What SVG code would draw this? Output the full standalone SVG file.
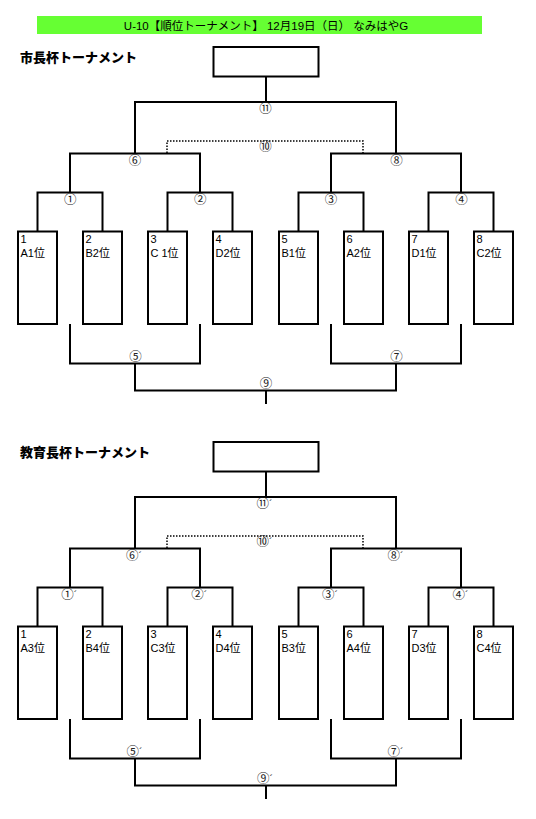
<svg xmlns="http://www.w3.org/2000/svg" width="536" height="819" viewBox="0 0 536 819">
<style>
.ln{fill:none;stroke:#000;stroke-width:2}
.dot{fill:none;stroke:#000;stroke-width:1.5;stroke-dasharray:1.5 1.5}
.box{fill:#fff;stroke:#000;stroke-width:2}
.lbl{font-family:"Noto Sans CJK JP",sans-serif;font-size:12.5px;fill:#222;text-anchor:middle}
.lbl2{font-family:"Noto Sans CJK JP",sans-serif;font-size:12.5px;fill:#222}
.pr{font-family:"Liberation Sans",sans-serif;font-size:10.5px}
.bt{font-family:"Liberation Sans","Noto Sans CJK JP",sans-serif;font-size:11px;fill:#000}
.title{font-family:"Noto Sans CJK JP",sans-serif;font-size:13px;font-weight:900;fill:#000}
.hdr{font-family:"Liberation Sans","Noto Sans CJK JP",sans-serif;font-size:11.5px;fill:#000;text-anchor:middle}
</style>
<defs>
<g id="conn">
<path class="ln" d="M266,76.5V102M135,153.5V102H396V153.5M70,192.5V153.5H200V192.5M331,192.5V153.5H461V192.5M37.5,231.5V192.5H102.5V231.5M167.5,231.5V192.5H232.5V231.5M298.5,231.5V192.5H363.5V231.5M428.5,231.5V192.5H493.5V231.5M70,324V363.5H200V324M331,324V363.5H461V324M135,363.5V390.5H396V363.5M266,390.5V404"/>
<path class="dot" d="M167,153V141H363V153"/>
</g>
</defs>
<g id="header">
<rect x="37" y="16" width="445" height="18" fill="#66ff33"/>
<text class="hdr" x="266" y="29.5">U-10【順位トーナメント】 12月19日（日） なみはやG</text>
</g>

<g id="section1">
<text class="title" x="20" y="62">市長杯トーナメント</text>
<g id="s1-connectors"><use href="#conn"/></g>
<g id="s1-winner"><rect class="box" x="213.5" y="47" width="105" height="29.5"/></g>
<g id="s1-t1"><rect class="box" x="18" y="231.5" width="39" height="92.5"/><text class="bt" x="20.5" y="243.3">1</text><text class="bt" x="20.5" y="256.5">A1位</text></g>
<g id="s1-t2"><rect class="box" x="83" y="231.5" width="39" height="92.5"/><text class="bt" x="85.5" y="243.3">2</text><text class="bt" x="85.5" y="256.5">B2位</text></g>
<g id="s1-t3"><rect class="box" x="148" y="231.5" width="39" height="92.5"/><text class="bt" x="150.5" y="243.3">3</text><text class="bt" x="150.5" y="256.5">C 1位</text></g>
<g id="s1-t4"><rect class="box" x="213" y="231.5" width="39" height="92.5"/><text class="bt" x="215.5" y="243.3">4</text><text class="bt" x="215.5" y="256.5">D2位</text></g>
<g id="s1-t5"><rect class="box" x="279" y="231.5" width="39" height="92.5"/><text class="bt" x="281.5" y="243.3">5</text><text class="bt" x="281.5" y="256.5">B1位</text></g>
<g id="s1-t6"><rect class="box" x="344" y="231.5" width="39" height="92.5"/><text class="bt" x="346.5" y="243.3">6</text><text class="bt" x="346.5" y="256.5">A2位</text></g>
<g id="s1-t7"><rect class="box" x="409" y="231.5" width="39" height="92.5"/><text class="bt" x="411.5" y="243.3">7</text><text class="bt" x="411.5" y="256.5">D1位</text></g>
<g id="s1-t8"><rect class="box" x="474" y="231.5" width="39" height="92.5"/><text class="bt" x="476.5" y="243.3">8</text><text class="bt" x="476.5" y="256.5">C2位</text></g>
<g id="s1-labels">
<text class="lbl" x="265.5" y="112.7">⑪</text>
<text class="lbl" x="265.5" y="151.4">⑩</text>
<text class="lbl" x="135" y="164.7">⑥</text>
<text class="lbl" x="396.5" y="164.7">⑧</text>
<text class="lbl" x="70.3" y="203.7">①</text>
<text class="lbl" x="200.3" y="203.7">②</text>
<text class="lbl" x="331" y="203.7">③</text>
<text class="lbl" x="461.5" y="203.7">④</text>
<text class="lbl" x="135.4" y="361.4">⑤</text>
<text class="lbl" x="396.6" y="361.4">⑦</text>
<text class="lbl" x="266" y="388.4">⑨</text>
</g>
</g>

<g id="section2">
<text class="title" x="20" y="457">教育長杯トーナメント</text>
<g transform="translate(0,395)">
<g id="s2-connectors"><use href="#conn"/></g>
<g id="s2-winner"><rect class="box" x="213.5" y="47" width="105" height="29.5"/></g>
<g id="s2-t1"><rect class="box" x="18" y="231.5" width="39" height="92.5"/><text class="bt" x="20.5" y="243.3">1</text><text class="bt" x="20.5" y="256.5">A3位</text></g>
<g id="s2-t2"><rect class="box" x="83" y="231.5" width="39" height="92.5"/><text class="bt" x="85.5" y="243.3">2</text><text class="bt" x="85.5" y="256.5">B4位</text></g>
<g id="s2-t3"><rect class="box" x="148" y="231.5" width="39" height="92.5"/><text class="bt" x="150.5" y="243.3">3</text><text class="bt" x="150.5" y="256.5">C3位</text></g>
<g id="s2-t4"><rect class="box" x="213" y="231.5" width="39" height="92.5"/><text class="bt" x="215.5" y="243.3">4</text><text class="bt" x="215.5" y="256.5">D4位</text></g>
<g id="s2-t5"><rect class="box" x="279" y="231.5" width="39" height="92.5"/><text class="bt" x="281.5" y="243.3">5</text><text class="bt" x="281.5" y="256.5">B3位</text></g>
<g id="s2-t6"><rect class="box" x="344" y="231.5" width="39" height="92.5"/><text class="bt" x="346.5" y="243.3">6</text><text class="bt" x="346.5" y="256.5">A4位</text></g>
<g id="s2-t7"><rect class="box" x="409" y="231.5" width="39" height="92.5"/><text class="bt" x="411.5" y="243.3">7</text><text class="bt" x="411.5" y="256.5">D3位</text></g>
<g id="s2-t8"><rect class="box" x="474" y="231.5" width="39" height="92.5"/><text class="bt" x="476.5" y="243.3">8</text><text class="bt" x="476.5" y="256.5">C4位</text></g>
<g id="s2-labels">
<text class="lbl2" x="256.5" y="112.7">⑪<tspan class="pr">´</tspan></text>
<text class="lbl2" x="256.5" y="151.4">⑩<tspan class="pr">´</tspan></text>
<text class="lbl2" x="126" y="164.7">⑥<tspan class="pr">´</tspan></text>
<text class="lbl2" x="387.5" y="164.7">⑧<tspan class="pr">´</tspan></text>
<text class="lbl2" x="61.3" y="203.7">①<tspan class="pr">´</tspan></text>
<text class="lbl2" x="191.3" y="203.7">②<tspan class="pr">´</tspan></text>
<text class="lbl2" x="322" y="203.7">③<tspan class="pr">´</tspan></text>
<text class="lbl2" x="452.5" y="203.7">④<tspan class="pr">´</tspan></text>
<text class="lbl2" x="126.4" y="361.4">⑤<tspan class="pr">´</tspan></text>
<text class="lbl2" x="387.6" y="361.4">⑦<tspan class="pr">´</tspan></text>
<text class="lbl2" x="257" y="388.4">⑨<tspan class="pr">´</tspan></text>
</g>
</g>
</g>
</svg>
